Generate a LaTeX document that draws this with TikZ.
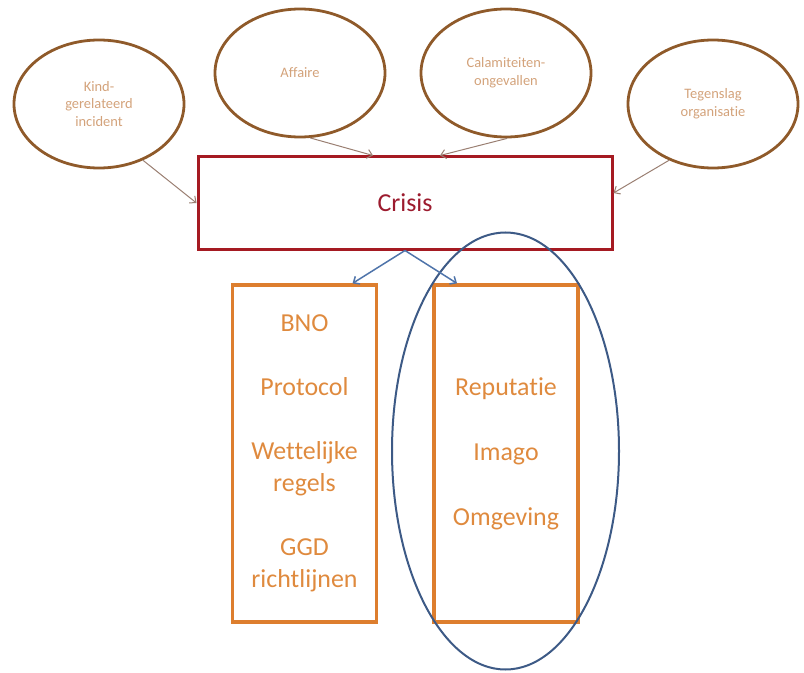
\documentclass[tikz,border=0pt]{standalone}
\usepackage{fontspec}
\setmainfont{Carlito}[Ligatures=NoCommon]
\usetikzlibrary{shapes.geometric,arrows.meta,calc}
\definecolor{ellbrown}{HTML}{8F5A2A}
\definecolor{elltext}{HTML}{D3A27A}
\definecolor{crisred}{HTML}{A51A22}
\definecolor{cristext}{HTML}{9C1B2E}
\definecolor{boxorange}{HTML}{DD7E2E}
\definecolor{boxtext}{HTML}{DF8A3E}
\definecolor{focusblue}{HTML}{3D5A86}
\definecolor{arrbrown}{HTML}{9A7F72}
\definecolor{arrblue}{HTML}{4F74AA}
\begin{document}
\begin{tikzpicture}[x=1bp,y=-1bp,
  cause/.style={ellipse,draw=ellbrown,line width=2.8bp,minimum width=170bp,minimum height=128bp,inner sep=0pt,
     text=elltext,align=center,font=\fontsize{14.5}{18}\selectfont},
  crisisbox/.style={rectangle,draw=crisred,line width=3bp,minimum width=414bp,minimum height=92bp,inner sep=0pt,
     text=cristext,font=\fontsize{26}{32}\selectfont},
  listbox/.style={rectangle,draw=boxorange,line width=3.2bp,minimum width=144bp,minimum height=337bp,inner sep=0pt,
     text=boxtext,align=center,font=\fontsize{26}{32}\selectfont},
  focus/.style={ellipse,draw=focusblue,line width=2bp,minimum width=227bp,minimum height=437bp,inner sep=0pt},
  inarrow/.style={draw=arrbrown,line width=1bp,-{Straight Barb[length=5bp,width=9bp]}},
  outarrow/.style={draw=arrblue,line width=1.5bp,-{Straight Barb[length=5bp,width=9bp]}}
]
\useasboundingbox (0,0) rectangle (804,673);
\node[cause] (kind) at (99,104) {Kind-\\gerelateerd\\incident};
\node[cause] (affaire) at (300,73) {Affaire};
\node[cause] (calam) at (506,73) {Calamiteiten-\\ongevallen};
\node[cause] (tegen) at (713,104) {Tegenslag\\organisatie};
\node[crisisbox] (crisis) at (405,203) {Crisis};
\node[listbox] (lbox) at (304.5,453.5) {BNO\\[32bp]Protocol\\[32bp]Wettelijke\\regels\\[32bp]GGD\\richtlijnen};
\node[listbox] (rbox) at (506,453.5) {Reputatie\\[33bp]Imago\\[33bp]Omgeving};
\node[focus] (reput) at (505.5,451) {};
\coordinate (inA) at ($(crisis.north)+(-32,0)$);
\coordinate (inC) at ($(crisis.north)+(35,0)$);
\coordinate (inT) at ($(crisis.east)+(0,-10)$);
\coordinate (outL) at ($(lbox.north)+(48,0)$);
\coordinate (outR) at ($(rbox.north)+(-49,0)$);
\draw[inarrow] (kind.-52) -- (crisis.west);
\draw[inarrow] (affaire.-81) -- (inA);
\draw[inarrow] (calam.-89) -- (inC);
\draw[inarrow] (tegen.232) -- (inT);
\draw[outarrow] (crisis.south) -- (outL);
\draw[outarrow] (crisis.south) -- (outR);
\end{tikzpicture}
\end{document}
